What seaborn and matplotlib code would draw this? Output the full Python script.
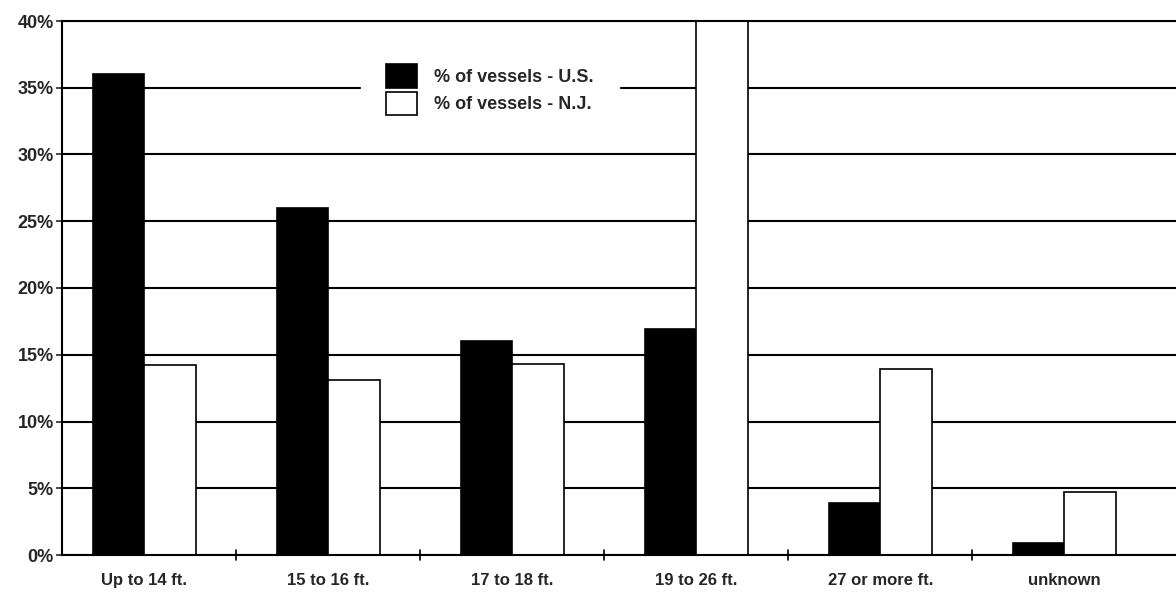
import matplotlib
matplotlib.use("Agg")
import matplotlib.pyplot as plt
import seaborn as sns
import pandas as pd
from matplotlib.ticker import FuncFormatter, FixedLocator

categories = ["Up to 14 ft.", "15 to 16 ft.", "17 to 18 ft.", "19 to 26 ft.", "27 or more ft.", "unknown"]
us_pct = [36.0, 26.0, 16.0, 16.9, 3.9, 0.9]
nj_pct = [14.2, 13.1, 14.3, 41.0, 13.9, 4.7]
series = ["% of vessels - U.S.", "% of vessels - N.J."]

rows = []
for c, u, n in zip(categories, us_pct, nj_pct):
    rows.append([c, u, series[0]])
    rows.append([c, n, series[1]])
data = pd.DataFrame(rows, columns=["Length", "Pct", "Series"])

sns.set_style("white")
plt.rcParams["font.family"] = ["Liberation Sans", "DejaVu Sans"]

fig = plt.figure(figsize=(11.76, 5.98), dpi=100)
ax = fig.add_axes([62 / 1176, 43 / 598, 1 - 62 / 1176 + 0.01, (555 - 21) / 598])

ax.yaxis.grid(True, color="black", linewidth=1.5)
ax.set_axisbelow(True)
sns.barplot(data=data, x="Length", y="Pct", hue="Series",
            palette=["black", "white"], edgecolor="black", linewidth=1.2,
            width=0.56, gap=0, ax=ax)

ax.set_ylim(0, 40)
ax.set_xlim(-0.446, 5.67)
ax.yaxis.set_major_locator(FixedLocator(range(0, 41, 5)))
ax.yaxis.set_major_formatter(FuncFormatter(lambda v, p: "%d%%" % v))
ax.set_xlabel("")
ax.set_ylabel("")
ax.tick_params(axis="y", labelsize=13, length=4, width=1.2, left=True, pad=2)
ax.tick_params(axis="x", labelsize=12, length=0, pad=13)
for lbl in ax.get_xticklabels() + ax.get_yticklabels():
    lbl.set_fontweight("bold")
# small ticks between the categories
for b in [0.5, 1.5, 2.5, 3.5, 4.5]:
    ax.plot([b, b], [-0.35, 0.35], color="black", lw=1.2, clip_on=False)

for s in ["left", "bottom", "top"]:
    ax.spines[s].set_visible(True)
    ax.spines[s].set_color("black")
    ax.spines[s].set_linewidth(1.5)
ax.spines["right"].set_visible(False)

leg = ax.legend(loc="upper left", bbox_to_anchor=(352 / 1176, 1 - 30 / 598),
                bbox_transform=fig.transFigure, frameon=True,
                fontsize=13, handlelength=1.7, handleheight=1.65,
                labelspacing=0.2, borderpad=1.4, handletextpad=0.95)
leg.get_frame().set_edgecolor("white")
leg.get_frame().set_facecolor("white")
leg.get_frame().set_alpha(1)
leg.get_frame().set_boxstyle("square", pad=0)
for t in leg.get_texts():
    t.set_fontweight("bold")

fig.savefig("out.png", dpi=100)
